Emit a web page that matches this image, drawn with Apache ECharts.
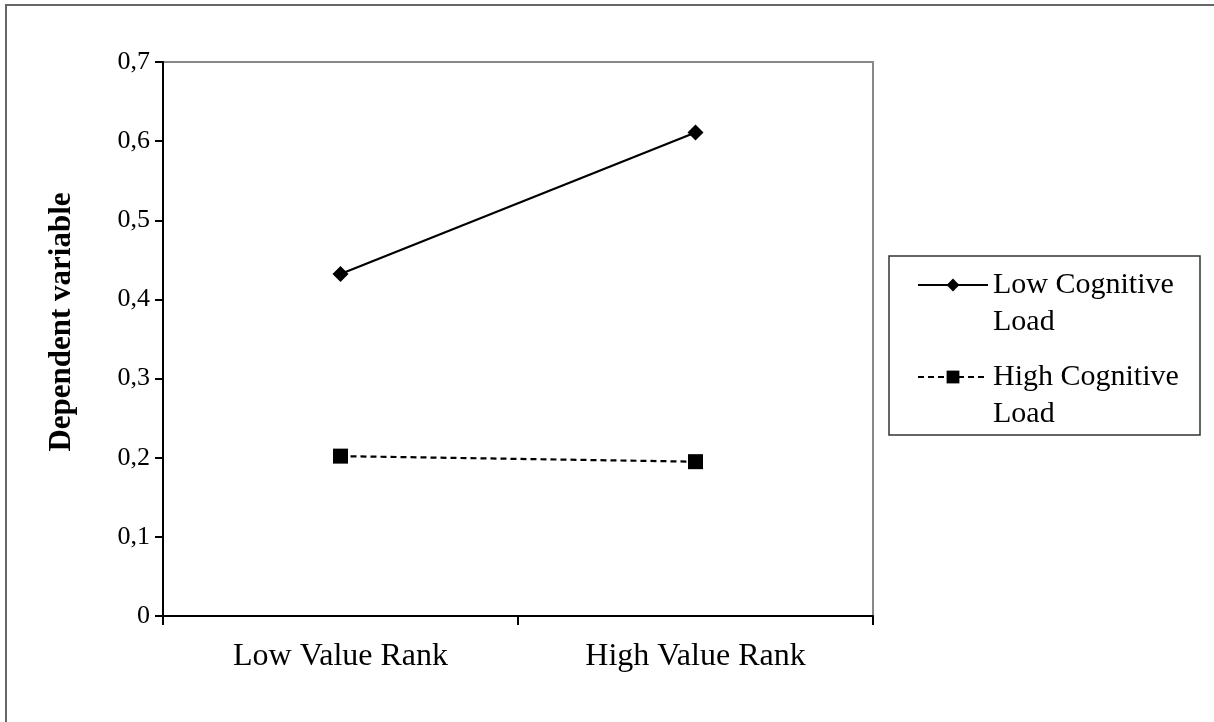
<!DOCTYPE html>
<html>
<head>
<meta charset="utf-8">
<script src="https://cdn.jsdelivr.net/npm/echarts@6/dist/echarts.min.js"></script>
<style>
html,body{margin:0;padding:0;background:#fff;}
#chart{width:1214px;height:722px;}
</style>
</head>
<body>
<div id="chart"></div>
<script>
const categories = ['Low Value Rank', 'High Value Rank'];
const seriesNames = ['Low Cognitive Load', 'High Cognitive Load'];
const lowLoad = [0.432, 0.611];
const highLoad = [0.202, 0.195];
const yTicks = { min: 0, max: 0.7, interval: 0.1 };
const yTitle = 'Dependent variable';

const serif = '"Liberation Serif", "Times New Roman", serif';
const LH = 37;
const IH = 16;

const chart = echarts.init(document.getElementById('chart'), null, { renderer: 'canvas' });

function legendCfg(name, iconCenterY) {
  return {
    data: [name],
    left: 917,
    top: iconCenterY - 1.5 * LH,
    orient: 'vertical',
    padding: 0,
    itemWidth: 70,
    itemHeight: IH,
    itemGap: 0,
    selectedMode: false,
    formatter: n => '\n' + n.replace(' Load', '\nLoad'),
    textStyle: {
      fontFamily: serif,
      fontSize: 30,
      color: '#000',
      lineHeight: LH
    }
  };
}

chart.setOption({
  animation: false,
  backgroundColor: '#fff',
  graphic: [
    { type: 'rect', shape: { x: 6, y: 5, width: 1400, height: 900 }, style: { fill: 'none', stroke: '#666', lineWidth: 2 }, z: 0 },
    { type: 'rect', shape: { x: 889, y: 256, width: 311, height: 179 }, style: { fill: 'none', stroke: '#333', lineWidth: 1.5 }, z: 0 }
  ],
  grid: {
    left: 163, right: 341, top: 62, bottom: 106,
    show: true, borderColor: '#888', borderWidth: 2, backgroundColor: 'transparent'
  },
  legend: [
    legendCfg(seriesNames[0], 285),
    legendCfg(seriesNames[1], 377)
  ],
  xAxis: {
    type: 'category',
    data: categories,
    boundaryGap: true,
    axisLine: { lineStyle: { color: '#000', width: 2 } },
    axisTick: { show: true, length: 9, alignWithLabel: false, lineStyle: { color: '#000', width: 2 } },
    axisLabel: { fontFamily: serif, fontSize: 32, color: '#000', margin: 25 },
    splitLine: { show: false }
  },
  yAxis: {
    type: 'value',
    min: yTicks.min, max: yTicks.max, interval: yTicks.interval,
    name: yTitle,
    nameLocation: 'middle',
    nameGap: 86,
    nameRotate: 90,
    nameTextStyle: { fontFamily: serif, fontSize: 31, fontWeight: 'bold', color: '#000', padding: [0, 0, 0, 34] },
    axisLine: { show: true, lineStyle: { color: '#000', width: 2 } },
    axisTick: { show: true, length: 8, lineStyle: { color: '#000', width: 2 } },
    axisLabel: {
      fontFamily: serif, fontSize: 26, color: '#000', margin: 13,
      formatter: v => v === 0 ? '0' : v.toFixed(1).replace('.', ',')
    },
    splitLine: { show: false }
  },
  series: [
    {
      name: seriesNames[0], type: 'line', data: lowLoad,
      symbol: 'diamond', symbolSize: 16,
      itemStyle: { color: '#000' },
      lineStyle: { color: '#000', width: 2.2, type: 'solid' },
      z: 3
    },
    {
      name: seriesNames[1], type: 'line', data: highLoad,
      symbol: 'rect', symbolSize: 15,
      itemStyle: { color: '#000' },
      lineStyle: { color: '#000', width: 2.2, type: [6, 4] },
      z: 3
    }
  ]
});
</script>
</body>
</html>
